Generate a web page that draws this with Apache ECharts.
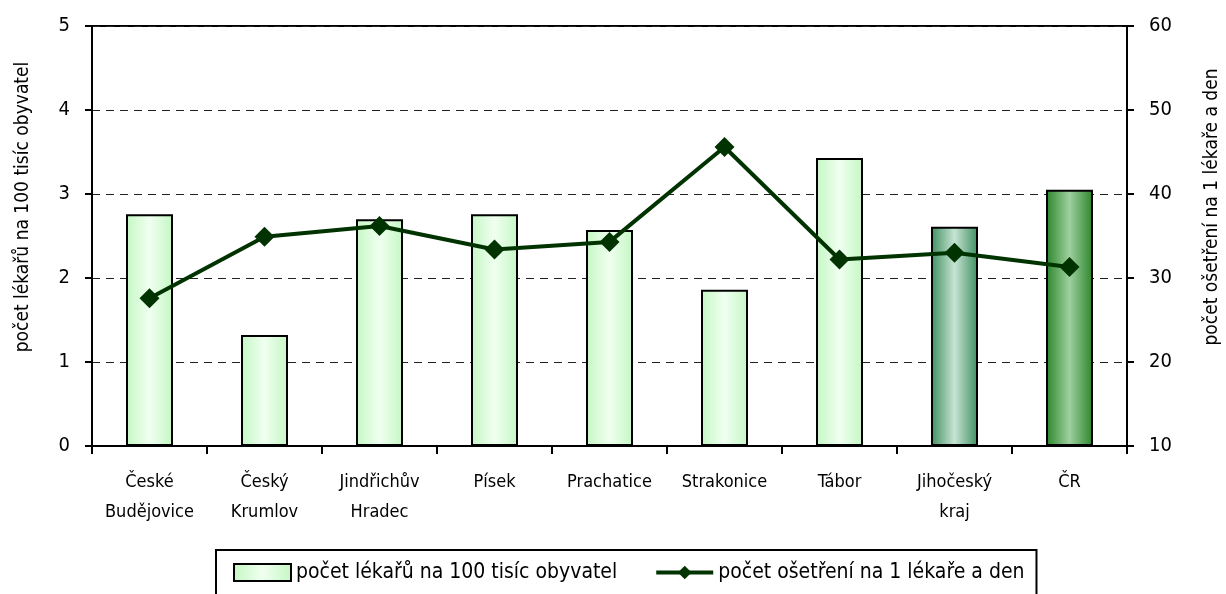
<!DOCTYPE html>
<html>
<head>
<meta charset="utf-8">
<script src="https://cdn.jsdelivr.net/npm/echarts@6/dist/echarts.min.js"></script>
<style>
html, body { margin: 0; padding: 0; background: #fff; }
#chart { width: 1226px; height: 594px; }
</style>
</head>
<body>
<div id="chart"></div>
<script>
var categories = ['České\nBudějovice', 'Český\nKrumlov', 'Jindřichův\nHradec', 'Písek', 'Prachatice', 'Strakonice', 'Tábor', 'Jihočeský\nkraj', 'ČR'];
var doctorsPer100k = [2.76, 1.32, 2.70, 2.76, 2.57, 1.86, 3.43, 2.61, 3.05];
var treatmentsPerDay = [27.6, 34.9, 36.2, 33.4, 34.3, 45.6, 32.2, 33.0, 31.3];
var leftTicks = [0, 5, 1];     // min, max, interval
var rightTicks = [10, 60, 10];
var barName = 'počet lékařů na 100 tisíc obyvatel';
var lineName = 'počet ošetření na 1 lékaře a den';

var FONT = "'Liberation Sans Narrow', 'DejaVu Sans Condensed', 'Arial Narrow', sans-serif";

function grad(edge, mid) {
    return new echarts.graphic.LinearGradient(0, 0, 1, 0, [
        { offset: 0, color: edge },
        { offset: 0.5, color: mid },
        { offset: 1, color: edge }
    ]);
}

var barColors = [];
for (var i = 0; i < categories.length; i++) {
    var c = grad('#c4f7c4', '#f0fff0');
    if (i == 7) c = grad('#3f8f60', '#c6e4d3');
    if (i == 8) c = grad('#2a852a', '#9fd09f');
    barColors.push(c);
}

var barData = doctorsPer100k.map(function (v, i) {
    return { value: v, itemStyle: { color: barColors[i] } };
});

var myChart = echarts.init(document.getElementById('chart'));
var option = {
    animation: false,
    textStyle: { fontFamily: FONT },
    grid: {
        left: 92, right: 99, top: 26, bottom: 148,
        show: true, borderColor: '#000', borderWidth: 2
    },
    legend: {
        left: 216, top: 550,
        padding: [12, 12, 14, 17],
        borderColor: '#000', borderWidth: 2,
        itemWidth: 57, itemHeight: 17, itemGap: 37,
        textStyle: { fontFamily: FONT, fontSize: 21, color: '#000' },
        data: [
            { name: barName, icon: 'rect', itemStyle: { color: grad('#c4f7c4', '#f0fff0'), borderColor: '#000', borderWidth: 2 } },
            { name: lineName, lineStyle: { width: 4, color: '#003300' } }
        ]
    },
    xAxis: {
        type: 'category',
        data: categories,
        axisLine: { lineStyle: { color: '#000', width: 2 } },
        axisTick: { show: true, length: 8, lineStyle: { color: '#000', width: 2 } },
        axisLabel: { color: '#000', fontFamily: FONT, fontSize: 18, lineHeight: 30, margin: 21, interval: 0 }
    },
    yAxis: [{
        type: 'value',
        min: leftTicks[0], max: leftTicks[1], interval: leftTicks[2],
        axisLine: { show: true, lineStyle: { color: '#000', width: 2 } },
        axisTick: { show: true, length: 7, lineStyle: { color: '#000', width: 2 } },
        axisLabel: { color: '#000', fontFamily: FONT, fontSize: 20, margin: 22 },
        splitLine: { show: true, lineStyle: { color: '#222', type: [8, 6], width: 1 } }
    }, {
        type: 'value',
        min: rightTicks[0], max: rightTicks[1], interval: rightTicks[2],
        axisLine: { show: true, lineStyle: { color: '#000', width: 2 } },
        axisTick: { show: true, length: 7, lineStyle: { color: '#000', width: 2 } },
        axisLabel: { color: '#000', fontFamily: FONT, fontSize: 20, margin: 22 },
        splitLine: { show: false }
    }],
    graphic: [{
        type: 'text', x: 23, y: 207, rotation: Math.PI / 2,
        style: { text: barName, font: '19px ' + FONT, fill: '#000', align: 'center', verticalAlign: 'middle' }
    }, {
        type: 'text', x: 1212, y: 207, rotation: Math.PI / 2,
        style: { text: lineName, font: '19px ' + FONT, fill: '#000', align: 'center', verticalAlign: 'middle' }
    }],
    series: [{
        name: barName,
        type: 'bar',
        yAxisIndex: 0,
        barWidth: 47,
        itemStyle: { borderColor: '#000', borderWidth: 2 },
        data: barData
    }, {
        name: lineName,
        type: 'line',
        yAxisIndex: 1,
        symbol: 'diamond',
        symbolSize: 20,
        lineStyle: { color: '#003300', width: 4 },
        itemStyle: { color: '#003300' },
        data: treatmentsPerDay
    }]
};
if (option && typeof option === "object") {
    myChart.setOption(option, true);
}
</script>
</body>
</html>
